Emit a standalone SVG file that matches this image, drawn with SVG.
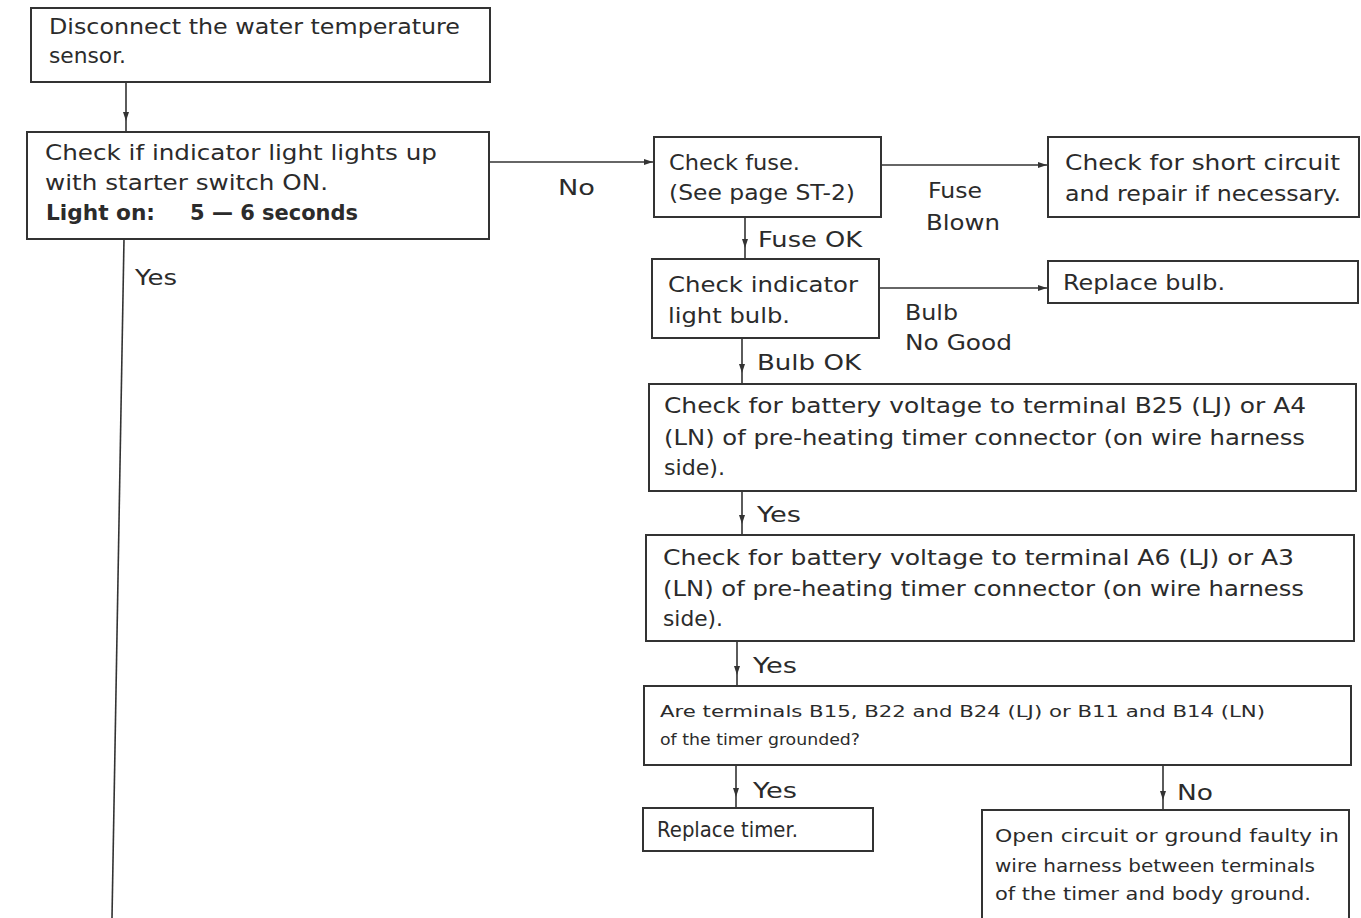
<svg xmlns="http://www.w3.org/2000/svg" width="1361" height="918" viewBox="0 0 1361 918">
<style>
.box{fill:none;stroke:#333;stroke-width:2}
.ln{fill:none;stroke:#333;stroke-width:1.6}
text{font-family:"DejaVu Sans","Liberation Sans",Arial,sans-serif;fill:#2b2b2b;font-size:21px}
.sm{font-size:16px}
.md{font-size:18px}
.b{font-weight:bold}
</style>
<defs>
<marker id="arrH" markerUnits="userSpaceOnUse" markerWidth="10" markerHeight="8" refX="9" refY="3" orient="auto" viewBox="0 0 10 8"><path d="M0,0 L9,3 L0,6 z" fill="#333"/></marker>
<marker id="arrV" markerUnits="userSpaceOnUse" markerWidth="20" markerHeight="8" refX="19" refY="3" orient="auto" viewBox="0 0 20 8"><path d="M0,0 L9,3 L0,6 z" fill="#333"/></marker>
</defs>
<rect width="1361" height="918" fill="#fff"/>

<g id="connectors">
<line class="ln" x1="126" y1="82" x2="126" y2="131" marker-end="url(#arrV)"/>
<line class="ln" x1="124" y1="239" x2="112" y2="918"/>
<line class="ln" x1="488" y1="162" x2="653" y2="162" marker-end="url(#arrH)"/>
<line class="ln" x1="881" y1="165" x2="1047" y2="165" marker-end="url(#arrH)"/>
<line class="ln" x1="745" y1="217" x2="745" y2="258" marker-end="url(#arrV)"/>
<line class="ln" x1="879" y1="288" x2="1047" y2="288" marker-end="url(#arrH)"/>
<line class="ln" x1="742" y1="338" x2="742" y2="383" marker-end="url(#arrV)"/>
<line class="ln" x1="742" y1="490" x2="742" y2="534" marker-end="url(#arrV)"/>
<line class="ln" x1="737" y1="641" x2="737" y2="685" marker-end="url(#arrV)"/>
<line class="ln" x1="736" y1="765" x2="736" y2="807" marker-end="url(#arrV)"/>
<line class="ln" x1="1163" y1="766" x2="1163" y2="810" marker-end="url(#arrV)"/>
<text x="135" y="285" textLength="42" lengthAdjust="spacingAndGlyphs">Yes</text>
<text x="558" y="195" textLength="37" lengthAdjust="spacingAndGlyphs">No</text>
<text x="928" y="198" textLength="54" lengthAdjust="spacingAndGlyphs">Fuse</text>
<text x="926" y="230" textLength="74" lengthAdjust="spacingAndGlyphs">Blown</text>
<text x="758" y="247" textLength="104" lengthAdjust="spacingAndGlyphs">Fuse OK</text>
<text x="905" y="320" textLength="53" lengthAdjust="spacingAndGlyphs">Bulb</text>
<text x="905" y="350" textLength="107" lengthAdjust="spacingAndGlyphs">No Good</text>
<text x="757" y="370" textLength="104" lengthAdjust="spacingAndGlyphs">Bulb OK</text>
<text x="757" y="522" textLength="44" lengthAdjust="spacingAndGlyphs">Yes</text>
<text x="753" y="673" textLength="44" lengthAdjust="spacingAndGlyphs">Yes</text>
<text x="753" y="798" textLength="44" lengthAdjust="spacingAndGlyphs">Yes</text>
<text x="1177" y="800" textLength="36" lengthAdjust="spacingAndGlyphs">No</text>
</g>

<g id="n1">
<rect class="box" x="31" y="8" width="459" height="74"/>
<text x="49" y="34" textLength="411" lengthAdjust="spacingAndGlyphs">Disconnect the water temperature</text>
<text x="49" y="63" textLength="77" lengthAdjust="spacingAndGlyphs">sensor.</text>
</g>

<g id="n2">
<rect class="box" x="27" y="132" width="462" height="107"/>
<text x="45" y="160" textLength="392" lengthAdjust="spacingAndGlyphs">Check if indicator light lights up</text>
<text x="45" y="190" textLength="283" lengthAdjust="spacingAndGlyphs">with starter switch ON.</text>
<text class="b" x="46" y="220" textLength="109" lengthAdjust="spacingAndGlyphs">Light on:</text>
<text class="b" x="190" y="220" textLength="168" lengthAdjust="spacingAndGlyphs">5 — 6 seconds</text>
</g>

<g id="n3">
<rect class="box" x="654" y="137" width="227" height="80"/>
<text x="669" y="170" textLength="131" lengthAdjust="spacingAndGlyphs">Check fuse.</text>
<text x="669" y="200" textLength="186" lengthAdjust="spacingAndGlyphs">(See page ST-2)</text>
</g>

<g id="n4">
<rect class="box" x="1048" y="137" width="311" height="80"/>
<text x="1065" y="170" textLength="275" lengthAdjust="spacingAndGlyphs">Check for short circuit</text>
<text x="1065" y="201" textLength="276" lengthAdjust="spacingAndGlyphs">and repair if necessary.</text>
</g>

<g id="n5">
<rect class="box" x="652" y="259" width="227" height="79"/>
<text x="668" y="292" textLength="190" lengthAdjust="spacingAndGlyphs">Check indicator</text>
<text x="668" y="323" textLength="122" lengthAdjust="spacingAndGlyphs">light bulb.</text>
</g>

<g id="n6">
<rect class="box" x="1048" y="261" width="310" height="42"/>
<text x="1063" y="290" textLength="162" lengthAdjust="spacingAndGlyphs">Replace bulb.</text>
</g>

<g id="n7">
<rect class="box" x="649" y="384" width="707" height="107"/>
<text x="664" y="413" textLength="642" lengthAdjust="spacingAndGlyphs">Check for battery voltage to terminal B25 (LJ) or A4</text>
<text x="664" y="445" textLength="641" lengthAdjust="spacingAndGlyphs">(LN) of pre-heating timer connector (on wire harness</text>
<text x="664" y="475" textLength="61" lengthAdjust="spacingAndGlyphs">side).</text>
</g>

<g id="n8">
<rect class="box" x="646" y="535" width="708" height="106"/>
<text x="663" y="565" textLength="631" lengthAdjust="spacingAndGlyphs">Check for battery voltage to terminal A6 (LJ) or A3</text>
<text x="663" y="596" textLength="641" lengthAdjust="spacingAndGlyphs">(LN) of pre-heating timer connector (on wire harness</text>
<text x="663" y="626" textLength="60" lengthAdjust="spacingAndGlyphs">side).</text>
</g>

<g id="n9">
<rect class="box" x="644" y="686" width="707" height="79"/>
<text class="sm" x="660" y="717" textLength="605" lengthAdjust="spacingAndGlyphs">Are terminals B15, B22 and B24 (LJ) or B11 and B14 (LN)</text>
<text class="sm" x="660" y="745" textLength="200" lengthAdjust="spacingAndGlyphs">of the timer grounded?</text>
</g>

<g id="n10">
<rect class="box" x="643" y="808" width="230" height="43"/>
<text x="657" y="837" textLength="141" lengthAdjust="spacingAndGlyphs">Replace timer.</text>
</g>

<g id="n11">
<path class="box" d="M982,920 L982,810 L1349,810 L1349,920"/>
<text class="md" x="995" y="842" textLength="344" lengthAdjust="spacingAndGlyphs">Open circuit or ground faulty in</text>
<text class="md" x="995" y="872" textLength="320" lengthAdjust="spacingAndGlyphs">wire harness between terminals</text>
<text class="md" x="995" y="900" textLength="316" lengthAdjust="spacingAndGlyphs">of the timer and body ground.</text>
</g>
</svg>
